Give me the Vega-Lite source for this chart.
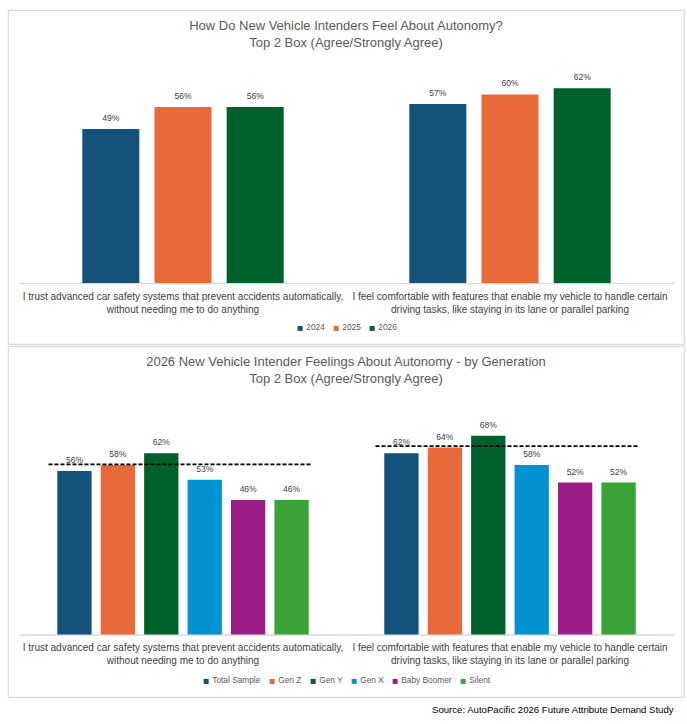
{
  "$schema": "https://vega.github.io/schema/vega-lite/v6.json",
  "padding": {"left": 7, "top": 9, "right": 3, "bottom": 4},
  "spacing": 0,
  "background": "white",
  "title": {
    "text": "Source: AutoPacific 2026 Future Attribute Demand Study",
    "orient": "bottom",
    "anchor": "end",
    "baseline": "top",
    "offset": 7,
    "dx": -11,
    "font": "Liberation Sans",
    "fontSize": 9.6,
    "fontWeight": "normal",
    "color": "#000000"
  },
  "datasets": {
    "years": [
      {"statement": "I trust advanced car safety systems that prevent accidents automatically,|without needing me to do anything", "year": "2024", "pct": 0.49},
      {"statement": "I trust advanced car safety systems that prevent accidents automatically,|without needing me to do anything", "year": "2025", "pct": 0.56},
      {"statement": "I trust advanced car safety systems that prevent accidents automatically,|without needing me to do anything", "year": "2026", "pct": 0.56},
      {"statement": "I feel comfortable with features that enable my vehicle to handle certain|driving tasks, like staying in its lane or parallel parking", "year": "2024", "pct": 0.57},
      {"statement": "I feel comfortable with features that enable my vehicle to handle certain|driving tasks, like staying in its lane or parallel parking", "year": "2025", "pct": 0.60},
      {"statement": "I feel comfortable with features that enable my vehicle to handle certain|driving tasks, like staying in its lane or parallel parking", "year": "2026", "pct": 0.62}
    ],
    "generations": [
      {"statement": "I trust advanced car safety systems that prevent accidents automatically,|without needing me to do anything", "generation": "Total Sample", "pct": 0.56},
      {"statement": "I trust advanced car safety systems that prevent accidents automatically,|without needing me to do anything", "generation": "Gen Z", "pct": 0.58},
      {"statement": "I trust advanced car safety systems that prevent accidents automatically,|without needing me to do anything", "generation": "Gen Y", "pct": 0.62},
      {"statement": "I trust advanced car safety systems that prevent accidents automatically,|without needing me to do anything", "generation": "Gen X", "pct": 0.53},
      {"statement": "I trust advanced car safety systems that prevent accidents automatically,|without needing me to do anything", "generation": "Baby Boomer", "pct": 0.46},
      {"statement": "I trust advanced car safety systems that prevent accidents automatically,|without needing me to do anything", "generation": "Silent", "pct": 0.46},
      {"statement": "I feel comfortable with features that enable my vehicle to handle certain|driving tasks, like staying in its lane or parallel parking", "generation": "Total Sample", "pct": 0.62},
      {"statement": "I feel comfortable with features that enable my vehicle to handle certain|driving tasks, like staying in its lane or parallel parking", "generation": "Gen Z", "pct": 0.64},
      {"statement": "I feel comfortable with features that enable my vehicle to handle certain|driving tasks, like staying in its lane or parallel parking", "generation": "Gen Y", "pct": 0.68},
      {"statement": "I feel comfortable with features that enable my vehicle to handle certain|driving tasks, like staying in its lane or parallel parking", "generation": "Gen X", "pct": 0.58},
      {"statement": "I feel comfortable with features that enable my vehicle to handle certain|driving tasks, like staying in its lane or parallel parking", "generation": "Baby Boomer", "pct": 0.52},
      {"statement": "I feel comfortable with features that enable my vehicle to handle certain|driving tasks, like staying in its lane or parallel parking", "generation": "Silent", "pct": 0.52}
    ],
    "benchmarks": [
      {"statement": "I trust advanced car safety systems that prevent accidents automatically,|without needing me to do anything", "level": 0.582},
      {"statement": "I feel comfortable with features that enable my vehicle to handle certain|driving tasks, like staying in its lane or parallel parking", "level": 0.645}
    ]
  },
  "vconcat": [
    {
      "width": 676,
      "height": 334,
      "title": {
        "text": ["How Do New Vehicle Intenders Feel About Autonomy?", "Top 2 Box (Agree/Strongly Agree)"]
      },
      "data": {"name": "years"},
      "layer": [
        {
          "mark": {"type": "bar"},
          "encoding": {
            "x": {
              "field": "statement",
              "type": "nominal",
              "sort": null,
              "scale": {"range": [11.5, 665.5], "paddingInner": 0, "paddingOuter": 0},
              "axis": {"offset": -61}
            },
            "xOffset": {
              "field": "year",
              "type": "nominal",
              "sort": ["2024", "2025", "2026"],
              "scale": {"paddingInner": 0.21, "paddingOuter": 0.87}
            },
            "y": {
              "field": "pct",
              "type": "quantitative",
              "scale": {"domain": [-0.1943, 0.869], "nice": false},
              "axis": null
            },
            "color": {
              "field": "year",
              "type": "nominal",
              "scale": {"domain": ["2024", "2025", "2026"], "range": ["#14527A", "#E8693A", "#00612B"]},
              "legend": {"offset": -20}
            }
          }
        },
        {
          "mark": {"type": "text", "baseline": "bottom", "dy": -6, "fontSize": 8.5, "font": "Liberation Sans", "color": "#404040"},
          "encoding": {
            "x": {"field": "statement", "type": "nominal", "sort": null},
            "xOffset": {"field": "year", "type": "nominal", "sort": ["2024", "2025", "2026"]},
            "y": {"field": "pct", "type": "quantitative"},
            "text": {"field": "pct", "type": "quantitative", "format": ".0%"}
          }
        }
      ]
    },
    {
      "width": 676,
      "height": 351,
      "title": {
        "text": ["2026 New Vehicle Intender Feelings About Autonomy - by Generation", "Top 2 Box (Agree/Strongly Agree)"]
      },
      "layer": [
        {
          "data": {"name": "generations"},
          "mark": {"type": "bar"},
          "encoding": {
            "x": {
              "field": "statement",
              "type": "nominal",
              "sort": null,
              "scale": {"range": [11.5, 665.5], "paddingInner": 0, "paddingOuter": 0},
              "axis": {"offset": -62.4}
            },
            "xOffset": {
              "field": "generation",
              "type": "nominal",
              "sort": ["Total Sample", "Gen Z", "Gen Y", "Gen X", "Baby Boomer", "Silent"],
              "scale": {"paddingInner": 0.21, "paddingOuter": 0.87}
            },
            "y": {
              "field": "pct",
              "type": "quantitative",
              "scale": {"domain": [-0.2137, 0.9873], "nice": false},
              "axis": null
            },
            "color": {
              "field": "generation",
              "type": "nominal",
              "scale": {
                "domain": ["Total Sample", "Gen Z", "Gen Y", "Gen X", "Baby Boomer", "Silent"],
                "range": ["#14527A", "#E8693A", "#00612B", "#0392D0", "#9C1C88", "#3AA236"]
              },
              "legend": {"offset": -20.5}
            }
          }
        },
        {
          "data": {"name": "generations"},
          "mark": {"type": "text", "baseline": "bottom", "dy": -6, "fontSize": 8.5, "font": "Liberation Sans", "color": "#404040"},
          "encoding": {
            "x": {"field": "statement", "type": "nominal", "sort": null},
            "xOffset": {"field": "generation", "type": "nominal", "sort": ["Total Sample", "Gen Z", "Gen Y", "Gen X", "Baby Boomer", "Silent"]},
            "y": {"field": "pct", "type": "quantitative"},
            "text": {"field": "pct", "type": "quantitative", "format": ".0%"}
          }
        },
        {
          "data": {"name": "benchmarks"},
          "mark": {"type": "rule", "color": "#000000", "strokeWidth": 1.8, "strokeDash": [4, 2], "xOffset": 29, "x2Offset": -35},
          "encoding": {
            "x": {"field": "statement", "type": "nominal", "sort": null, "bandPosition": 0},
            "x2": {"field": "statement", "bandPosition": 1},
            "y": {"field": "level", "type": "quantitative"}
          }
        }
      ]
    }
  ],
  "resolve": {
    "scale": {"x": "independent", "y": "independent", "xOffset": "independent", "color": "independent"},
    "legend": {"color": "independent"}
  },
  "config": {
    "view": {"stroke": "#d9d9d9", "strokeWidth": 1.2},
    "title": {
      "offset": -40.5,
      "baseline": "top",
      "anchor": "middle",
      "font": "Liberation Sans",
      "fontSize": 13,
      "fontWeight": "normal",
      "color": "#595959",
      "lineHeight": 17.7
    },
    "axisX": {
      "title": null,
      "ticks": false,
      "grid": false,
      "domainColor": "#d9d9d9",
      "domainWidth": 1.5,
      "labelAngle": 0,
      "labelExpr": "split(datum.label, '|')",
      "labelFont": "Liberation Sans",
      "labelFontSize": 10,
      "labelColor": "#404040",
      "labelLineHeight": 13,
      "labelPadding": 8,
      "labelBaseline": "top",
      "labelLimit": 0,
      "labelOverlap": false,
      "labelBound": false,
      "labelFlush": false
    },
    "legend": {
      "orient": "bottom",
      "direction": "horizontal",
      "title": null,
      "padding": 0,
      "symbolType": "square",
      "symbolSize": 25,
      "symbolStrokeWidth": 0,
      "labelFont": "Liberation Sans",
      "labelFontSize": 8.3,
      "labelColor": "#595959",
      "labelOffset": 2,
      "columnPadding": 7,
      "layout": {"bottom": {"anchor": "middle"}}
    }
  }
}
